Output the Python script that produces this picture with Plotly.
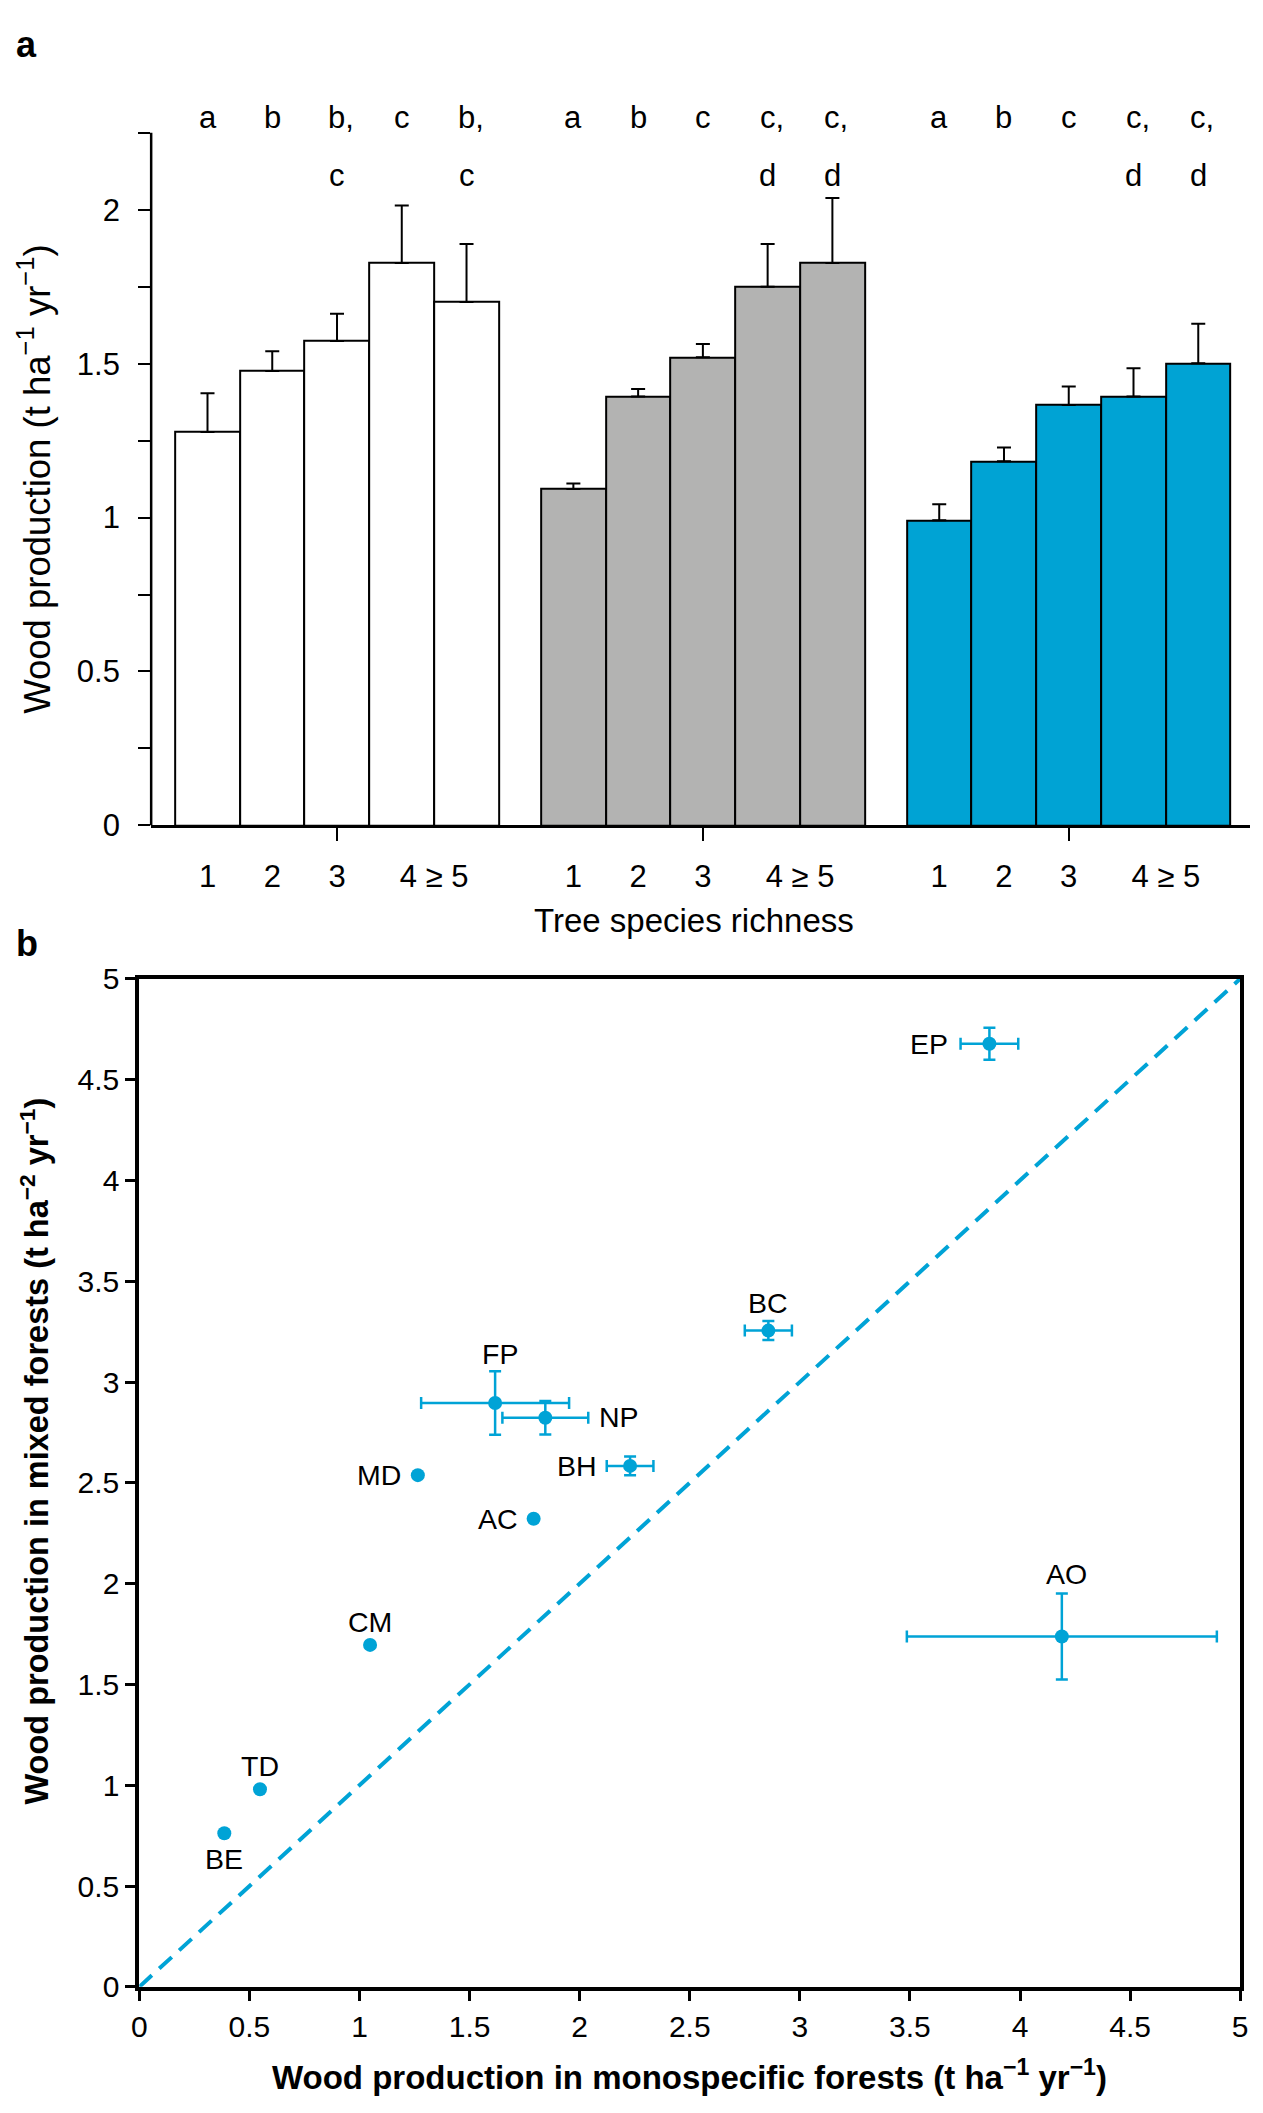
import plotly.graph_objects as go

# ---- panel a: wood production by tree species richness ----
richness_labels = ["1", "2", "3", "4 ≥ 5"]
group_colors = ["#FFFFFF", "#B3B3B2", "#00A3D4"]

prod_white = [1.278, 1.476, 1.574, 1.827, 1.700]
err_white = [0.126, 0.064, 0.088, 0.187, 0.189]
prod_gray = [1.093, 1.393, 1.521, 1.750, 1.827]
err_gray = [0.018, 0.025, 0.043, 0.139, 0.211]
prod_blue = [0.991, 1.183, 1.366, 1.393, 1.501]
err_blue = [0.052, 0.045, 0.060, 0.092, 0.129]

letters_white = [("a", ""), ("b", ""), ("b,", "c"), ("c", ""), ("b,", "c")]
letters_gray = [("a", ""), ("b", ""), ("c", ""), ("c,", "d"), ("c,", "d")]
letters_blue = [("a", ""), ("b", ""), ("c", ""), ("c,", "d"), ("c,", "d")]

# ---- panel b: mixed vs monospecific ----
species = ["EP", "BC", "FP", "NP", "BH", "MD", "AC", "CM", "TD", "BE", "AO"]
mono = [3.861, 2.857, 1.616, 1.844, 2.229, 1.265, 1.791, 1.048, 0.548, 0.386, 4.190]
mixed = [4.678, 3.255, 2.896, 2.823, 2.584, 2.538, 2.322, 1.696, 0.980, 0.762, 1.738]
mono_err = [0.131, 0.107, 0.336, 0.195, 0.106, 0, 0, 0, 0, 0, 0.704]
mixed_err = [0.079, 0.047, 0.157, 0.083, 0.047, 0, 0, 0, 0, 0, 0.213]

# label placement (anchor, xshift, yshift) in pixels
label_pos = {
    "EP": ("right", -39, 0), "BC": ("center", 0, 28), "FP": ("center", 5, 49),
    "NP": ("left", 52, 1), "BH": ("right", -31, 0), "MD": ("right", -15, 0),
    "AC": ("right", -14, 0), "CM": ("center", 0, 23), "TD": ("center", 0, 23),
    "BE": ("center", 0, -26), "AO": ("center", 5, 62),
}

FONT = "Liberation Sans, Arial, Helvetica, sans-serif"
BLUE = "#00A3D6"
W, H = 1263, 2113
GROUP_STEP = 5.65

fig = go.Figure()

groups = [(prod_white, err_white, letters_white),
          (prod_gray, err_gray, letters_gray),
          (prod_blue, err_blue, letters_blue)]

annotations = []
label_x, label_text, group_centers = [], [], []
for g, (vals, errs, letters) in enumerate(groups):
    xs = [g * GROUP_STEP + i for i in range(len(vals))]
    group_centers.append(xs[2])
    fig.add_trace(go.Bar(
        x=xs, y=vals, width=1,
        marker=dict(color=group_colors[g], line=dict(color="black", width=2)),
        error_y=dict(type="data", array=errs, arrayminus=[0] * len(errs),
                     symmetric=False, color="black", thickness=2, width=7),
        xaxis="x", yaxis="y", hoverinfo="skip",
    ))
    label_x += [xs[0], xs[1], xs[2], (xs[3] + xs[4]) / 2]
    label_text += richness_labels
    for x, (top, bottom) in zip(xs, letters):
        for txt, lev in ((top, 2.30), (bottom, 2.11)):
            if txt:
                annotations.append(dict(
                    x=x, y=lev, xref="x", yref="y", text=txt, showarrow=False,
                    xanchor="center", yanchor="middle",
                    xshift=4 if txt.endswith(",") else 0,
                    font=dict(size=31, color="black", family=FONT)))

# helper trace so the tick-mark overlay axis is drawn
fig.add_trace(go.Scatter(x=group_centers, y=[0] * 3, mode="markers",
                         marker=dict(opacity=0), xaxis="x3", yaxis="y",
                         hoverinfo="skip"))

# panel b traces
fig.add_trace(go.Scatter(x=[0, 5], y=[0, 5], mode="lines",
                         line=dict(color=BLUE, width=4, dash="17px,10px"),
                         xaxis="x2", yaxis="y2", hoverinfo="skip"))
fig.add_trace(go.Scatter(
    x=mono, y=mixed, mode="markers",
    marker=dict(color=BLUE, size=14),
    error_x=dict(type="data", array=mono_err, color=BLUE, thickness=2.5, width=6),
    error_y=dict(type="data", array=mixed_err, color=BLUE, thickness=2.5, width=6),
    xaxis="x2", yaxis="y2", hoverinfo="skip"))

for name, mx, my in zip(species, mono, mixed):
    anchor, dx, dy = label_pos[name]
    annotations.append(dict(x=mx, y=my, xref="x2", yref="y2", text=name,
                            showarrow=False, xanchor=anchor, yanchor="middle",
                            xshift=dx, yshift=dy,
                            font=dict(size=28.5, color="black", family=FONT)))


def px(x):
    return x / W


def py(y):
    return 1 - y / H


def paper_text(x, y, text, size, angle=0, anchor="center"):
    return dict(x=px(x), y=py(y), xref="paper", yref="paper", text=text,
                showarrow=False, xanchor=anchor, yanchor="middle",
                textangle=angle, font=dict(size=size, color="black", family=FONT))


annotations += [
    paper_text(6, 28, "<b>a</b>", 36, anchor="left"),
    paper_text(6, 942, "<b>b</b>", 36, anchor="left"),
    paper_text(695, 919, "Tree species richness", 33),
    paper_text(27, 470, "Wood production (t ha<sup>−1</sup> yr<sup>−1</sup>)", 36.5, angle=-90),
    paper_text(690, 2093,
               "<b>Wood production in monospecific forests (t ha<sup>−1</sup> yr<sup>−1</sup>)</b>", 33),
    paper_text(27, 1458,
               "<b>Wood production in mixed forests (t ha<sup>−2</sup> yr<sup>−1</sup>)</b>", 32.5, angle=-90),
]

xa_range = [-0.87, 2 * GROUP_STEP + 4 + 0.8]
xa_dom = [px(145), px(1258)]

fig.update_layout(
    width=W, height=H, margin=dict(l=0, r=0, t=0, b=0),
    paper_bgcolor="white", plot_bgcolor="white", showlegend=False,
    barmode="overlay", bargap=0,
    font=dict(family=FONT, color="black"),
    xaxis=dict(domain=xa_dom, range=xa_range, anchor="y",
               tickvals=label_x, ticktext=label_text,
               ticks="outside", ticklen=22, tickcolor="rgba(0,0,0,0)",
               tickfont=dict(size=31),
               showline=True, linecolor="black", linewidth=2.5,
               showgrid=False, zeroline=False),
    xaxis3=dict(overlaying="x", anchor="y", range=xa_range, side="bottom",
                tickvals=group_centers, ticks="outside", ticklen=15,
                tickwidth=2, tickcolor="black", showticklabels=False,
                showline=False, showgrid=False, zeroline=False),
    yaxis=dict(domain=[py(822), py(822 - 2.4 * 313)], range=[0, 2.4],
               anchor="x", tickvals=[0, 0.5, 1, 1.5, 2],
               ticktext=["0", "0.5", "1", "1.5", "2"],
               ticks="outside", ticklen=12, tickwidth=2, tickcolor="black",
               minor=dict(tickvals=[0.25, 0.75, 1.25, 1.75, 2.25],
                          ticks="outside", ticklen=12, tickwidth=2,
                          tickcolor="black"),
               ticklabelstandoff=12, tickfont=dict(size=31),
               showline=False, showgrid=False, zeroline=False),
    xaxis2=dict(domain=[px(133), px(1248)], range=[0, 5], anchor="y2",
                dtick=0.5, tick0=0, ticks="outside", ticklen=10, tickwidth=3,
                tickcolor="black", tickfont=dict(size=30),
                showline=True, linecolor="black", linewidth=4, mirror=True,
                showgrid=False, zeroline=False),
    yaxis2=dict(domain=[py(2003), py(978)], range=[0, 5], anchor="x2",
                dtick=0.5, tick0=0, ticks="outside", ticklen=10, tickwidth=3,
                tickcolor="black", tickfont=dict(size=30),
                showline=True, linecolor="black", linewidth=4, mirror=True,
                showgrid=False, zeroline=False),
    annotations=annotations,
    shapes=[dict(type="line", xref="paper", yref="y",
                 x0=xa_dom[0], x1=xa_dom[0], y0=0, y1=2.25,
                 line=dict(color="black", width=2.5))],
)

# the page's default 8px body margin would push the figure off the window
fig.write_html("out.html", config={"displayModeBar": False},
               post_script="document.body.style.margin = '0';")
